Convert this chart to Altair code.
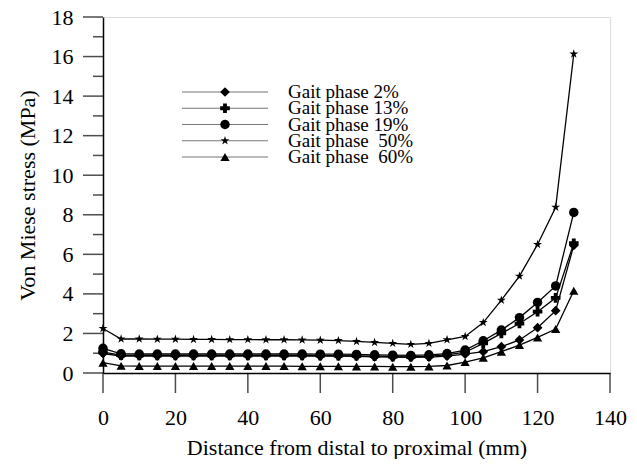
import altair as alt
import pandas as pd

# ---- data ----
distance = [0, 5, 10, 15, 20, 25, 30, 35, 40, 45, 50, 55, 60, 65, 70,
            75, 80, 85, 90, 95, 100, 105, 110, 115, 120, 125, 130]

phase_labels = ["Gait phase 2%", "Gait phase 13%", "Gait phase 19%",
                "Gait phase\u00a0 50%", "Gait phase\u00a0 60%"]

gp02 = [0.98, 0.86, 0.86, 0.86, 0.86, 0.86, 0.86, 0.86, 0.86, 0.86, 0.86, 0.86, 0.85, 0.85,
        0.84, 0.82, 0.80, 0.79, 0.80, 0.85, 0.95, 1.08, 1.33, 1.67, 2.29, 3.15, 6.45]
gp13 = [1.05, 0.90, 0.89, 0.89, 0.89, 0.89, 0.89, 0.89, 0.89, 0.89, 0.89, 0.89, 0.88, 0.88,
        0.87, 0.85, 0.83, 0.82, 0.85, 0.92, 1.05, 1.50, 2.00, 2.50, 3.10, 3.80, 6.56]
gp19 = [1.25, 0.97, 0.96, 0.96, 0.96, 0.96, 0.96, 0.96, 0.96, 0.96, 0.96, 0.96, 0.95, 0.95,
        0.94, 0.92, 0.90, 0.89, 0.92, 0.98, 1.16, 1.63, 2.17, 2.80, 3.57, 4.40, 8.12]
gp50 = [2.25, 1.72, 1.72, 1.71, 1.71, 1.70, 1.70, 1.69, 1.69, 1.68, 1.68, 1.67, 1.66, 1.64,
        1.60, 1.55, 1.50, 1.45, 1.50, 1.68, 1.85, 2.55, 3.68, 4.90, 6.50, 8.38, 16.13]
gp60 = [0.52, 0.36, 0.35, 0.35, 0.35, 0.35, 0.35, 0.35, 0.35, 0.35, 0.35, 0.34, 0.34, 0.34,
        0.33, 0.33, 0.32, 0.32, 0.33, 0.38, 0.55, 0.77, 1.08, 1.41, 1.80, 2.22, 4.16]

series = [gp02, gp13, gp19, gp50, gp60]

x_ticks = [0, 20, 40, 60, 80, 100, 120, 140]
y_major = [0, 2, 4, 6, 8, 10, 12, 14, 16, 18]
y_minor = [1, 3, 5, 7, 9, 11, 13, 15, 17]

STAR = ("M0,-1 L0.2245,-0.309 L0.951,-0.309 L0.363,0.118 L0.588,0.809 "
        "L0,0.382 L-0.588,0.809 L-0.363,0.118 L-0.951,-0.309 L-0.2245,-0.309 Z")
shapes = ["diamond", "cross", "circle", STAR, "triangle-up"]
marker_sizes = [95, 85, 100, 270, 100]

rows = []
for lab, vals in zip(phase_labels, series):
    for d, v in zip(distance, vals):
        rows.append({"phase": lab, "distance": d, "stress": v})
df = pd.DataFrame(rows)

legend_df = pd.DataFrame({"phase": phase_labels, "row": list(range(len(phase_labels)))})
ymajor_df = pd.DataFrame({"tickval": y_major})
yminor_df = pd.DataFrame({"tickval": y_minor})
xtick_df = pd.DataFrame({"tickpos": x_ticks})

FONT = "Liberation Serif"
W, H = 507, 356

shape_scale = alt.Scale(domain=phase_labels, range=shapes)
size_scale = alt.Scale(domain=phase_labels, range=marker_sizes)

x_axis = alt.Axis(values=x_ticks,
                  title="Distance from distal to proximal (mm)",
                  grid=False, ticks=False, domain=True,
                  domainColor="black", domainWidth=1.5,
                  labelFont=FONT, labelFontSize=22, labelColor="black",
                  labelPadding=34, labelFlush=False, labelOverlap=False,
                  titleFont=FONT, titleFontSize=22, titleFontWeight="normal",
                  titleColor="black", titlePadding=9)
y_axis = alt.Axis(values=y_major,
                  title="Von Miese stress (MPa)",
                  grid=False, ticks=False, domain=True,
                  domainColor="black", domainWidth=1.5,
                  labelFont=FONT, labelFontSize=22, labelColor="black",
                  labelPadding=30, labelFlush=False, labelOverlap=False,
                  titleFont=FONT, titleFontSize=22, titleFontWeight="normal",
                  titleColor="black", titlePadding=12)

x_scale = alt.Scale(domain=[0, 140], nice=False, zero=False)
y_scale = alt.Scale(domain=[0, 18], nice=False, zero=True)

base = alt.Chart(df)
lines = base.mark_line(color="black", strokeWidth=1.3).encode(
    x=alt.X("distance:Q", scale=x_scale, axis=x_axis),
    y=alt.Y("stress:Q", scale=y_scale, axis=y_axis),
    detail="phase:N", order="distance:Q")
points = base.mark_point(filled=True, color="black", opacity=1).encode(
    x=alt.X("distance:Q", scale=x_scale, axis=x_axis),
    y=alt.Y("stress:Q", scale=y_scale, axis=y_axis),
    shape=alt.Shape("phase:N", scale=shape_scale, legend=None),
    size=alt.Size("phase:N", scale=size_scale, legend=None))
# y ticks: long at even values, short at odd values
ymajor = alt.Chart(ymajor_df).mark_tick(color="black", thickness=1.5, orient="horizontal").encode(
    y=alt.Y("tickval:Q", scale=y_scale, axis=y_axis),
    x=alt.value(-10), size=alt.value(20))
yminor = alt.Chart(yminor_df).mark_tick(color="black", thickness=1.5, orient="horizontal").encode(
    y=alt.Y("tickval:Q", scale=y_scale, axis=y_axis),
    x=alt.value(-5), size=alt.value(10))
xticks = alt.Chart(xtick_df).mark_tick(color="black", thickness=1.5, orient="vertical").encode(
    x=alt.X("tickpos:Q", scale=x_scale, axis=x_axis),
    y=alt.value(H + 10), size=alt.value(20))
main = alt.layer(ymajor, yminor, xticks, lines, points)

ly = alt.Y("row:Q", scale=alt.Scale(domain=[0, 4], range=[75, 140]), axis=None)
lbase = alt.Chart(legend_df)
leg_rule = lbase.mark_rule(color="#777777", strokeWidth=1).encode(
    x=alt.value(79), x2=alt.value(165), y=ly)
leg_pts = lbase.mark_point(filled=True, color="black", opacity=1).encode(
    x=alt.value(122), y=ly,
    shape=alt.Shape("phase:N", scale=shape_scale, legend=None),
    size=alt.Size("phase:N", scale=size_scale, legend=None))
leg_txt = lbase.mark_text(align="left", baseline="middle", font=FONT, fontSize=19,
                          color="black").encode(
    x=alt.value(185), y=ly, text="phase:N")
legend = alt.layer(leg_rule, leg_pts, leg_txt)

chart = alt.layer(main, legend).resolve_scale(y="independent").properties(
    width=W, height=H,
    autosize=alt.AutoSizeParams(type="none"),
    padding={"left": 95, "top": 9, "right": 19, "bottom": 86},
).configure_view(stroke=None).configure(background="white")

chart.save("out.html", embed_options={"renderer": "svg", "actions": False})
